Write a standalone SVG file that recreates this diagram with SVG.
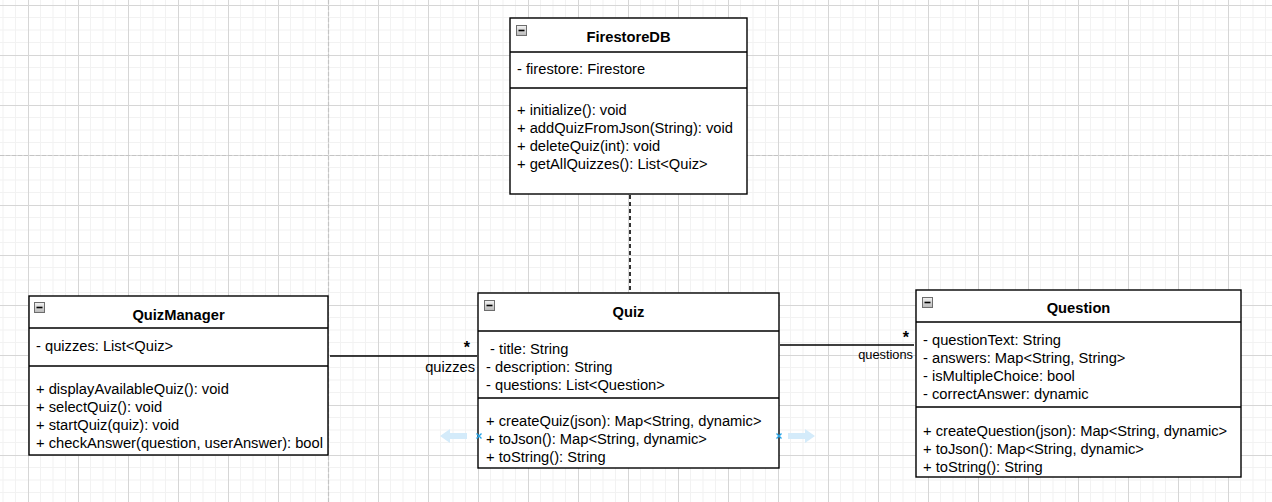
<svg xmlns="http://www.w3.org/2000/svg" width="1272" height="502" viewBox="0 0 1272 502">
<style>
  text { font-family: "Liberation Sans", Arial, Helvetica, sans-serif; fill: #000; }
  .t { font-size: 14.7px; }
  .title { font-size: 14.7px; font-weight: bold; text-anchor: middle; }
  .box { fill: #fff; stroke: #000; stroke-width: 1.4; }
  .sep { stroke: #000; stroke-width: 1.4; fill: none; }
  .conn { stroke: #000; stroke-width: 1.4; fill: none; }
  .dash { stroke: #000; stroke-width: 1.6; fill: none; stroke-dasharray: 4 3; }
  .pb { stroke: #c4c4c4; stroke-width: 1.2; fill: none; stroke-dasharray: 4 2; }
  .mult { font-size: 16px; font-weight: bold; text-anchor: end; }
  .role { text-anchor: end; }
  .hint { fill: #d4ebfa; }
  .hx { stroke: #29a5e8; stroke-width: 1.4; fill: none; }
</style>
<defs>
  <pattern id="grid" patternUnits="userSpaceOnUse" x="28" y="5" width="50" height="50">
    <rect width="50" height="50" fill="#fff"/>
    <path d="M12.5 0V50M25 0V50M37.5 0V50M0 12.5H50M0 25H50M0 37.5H50" stroke="#f2f2f2" stroke-width="1"/>
    <path d="M0.5 0V50M0 0.5H50" stroke="#d6d6d6" stroke-width="1"/>
  </pattern>
  <linearGradient id="ig" x1="0" y1="0" x2="0" y2="1">
    <stop offset="0" stop-color="#f4f4f4"/>
    <stop offset="1" stop-color="#b8b8b8"/>
  </linearGradient>
  <g id="minus">
    <rect x="0.5" y="0.5" width="10" height="10" fill="url(#ig)" stroke="#6d6d6d" stroke-width="1"/>
    <path d="M2.5 5.5H8.5" stroke="#000" stroke-width="1.6"/>
  </g>
</defs>
<rect width="1272" height="502" fill="url(#grid)"/>
<path class="pb" d="M0 155.5H1272M328.5 0V502"/>

<g id="connectors">
  <path class="dash" d="M630 195V293"/>
  <path class="conn" d="M330 356H477"/>
  <text class="mult" x="470" y="353">*</text>
  <text class="t role" x="475" y="372">quizzes</text>
  <path class="conn" d="M780 345H914"/>
  <text class="mult" x="909" y="343">*</text>
  <text class="role" style="font-size:12.8px" x="913" y="359">questions</text>
</g>

<g id="FirestoreDB">
  <rect class="box" x="510" y="18" width="237" height="176"/>
  <path class="sep" d="M510 52H747M510 88H747"/>
  <use href="#minus" x="516" y="25"/>
  <text class="title" x="628.5" y="41.5">FirestoreDB</text>
  <text class="t" x="517" y="74">- firestore: Firestore</text>
  <text class="t" x="517" y="115">+ initialize(): void</text>
  <text class="t" x="517" y="133">+ addQuizFromJson(String): void</text>
  <text class="t" x="517" y="151">+ deleteQuiz(int): void</text>
  <text class="t" x="517" y="169">+ getAllQuizzes(): List&lt;Quiz&gt;</text>
</g>

<g id="QuizManager">
  <rect class="box" x="29" y="296" width="299" height="159"/>
  <path class="sep" d="M29 328H328M29 366H328"/>
  <use href="#minus" x="34" y="302"/>
  <text class="title" x="178.5" y="320">QuizManager</text>
  <text class="t" x="36" y="351">- quizzes: List&lt;Quiz&gt;</text>
  <text class="t" x="36" y="394">+ displayAvailableQuiz(): void</text>
  <text class="t" x="36" y="412">+ selectQuiz(): void</text>
  <text class="t" x="36" y="430">+ startQuiz(quiz): void</text>
  <text class="t" x="36" y="448">+ checkAnswer(question, userAnswer): bool</text>
</g>

<g id="Quiz">
  <rect class="box" x="478" y="293" width="301" height="175"/>
  <path class="sep" d="M478 331H779M478 398H779"/>
  <use href="#minus" x="484" y="300"/>
  <text class="title" x="628.5" y="317">Quiz</text>
  <text class="t" x="486" y="354" xml:space="preserve"> - title: String</text>
  <text class="t" x="486" y="372">- description: String</text>
  <text class="t" x="486" y="390">- questions: List&lt;Question&gt;</text>
  <text class="t" x="486" y="426">+ createQuiz(json): Map&lt;String, dynamic&gt;</text>
  <text class="t" x="486" y="444">+ toJson(): Map&lt;String, dynamic&gt;</text>
  <text class="t" x="486" y="462">+ toString(): String</text>
</g>

<g id="Question">
  <rect class="box" x="916" y="290" width="325" height="187"/>
  <path class="sep" d="M916 322H1241M916 407H1241"/>
  <use href="#minus" x="922" y="297"/>
  <text class="title" x="1078.5" y="313">Question</text>
  <text class="t" x="923" y="345">- questionText: String</text>
  <text class="t" x="923" y="363">- answers: Map&lt;String, String&gt;</text>
  <text class="t" x="923" y="381">- isMultipleChoice: bool</text>
  <text class="t" x="923" y="399">- correctAnswer: dynamic</text>
  <text class="t" x="923" y="436">+ createQuestion(json): Map&lt;String, dynamic&gt;</text>
  <text class="t" x="923" y="454">+ toJson(): Map&lt;String, dynamic&gt;</text>
  <text class="t" x="923" y="472">+ toString(): String</text>
</g>

<g id="hover-hints">
  <path class="hint" d="M440 436L450 429V433H467V439H450V443Z"/>
  <path class="hint" d="M815 436L805 429V433H788V439H805V443Z"/>
  <path class="hx" d="M476.5 433.5L481.5 438.5M481.5 433.5L476.5 438.5"/>
  <path class="hx" d="M776.5 433.5L781.5 438.5M781.5 433.5L776.5 438.5"/>
</g>
</svg>
